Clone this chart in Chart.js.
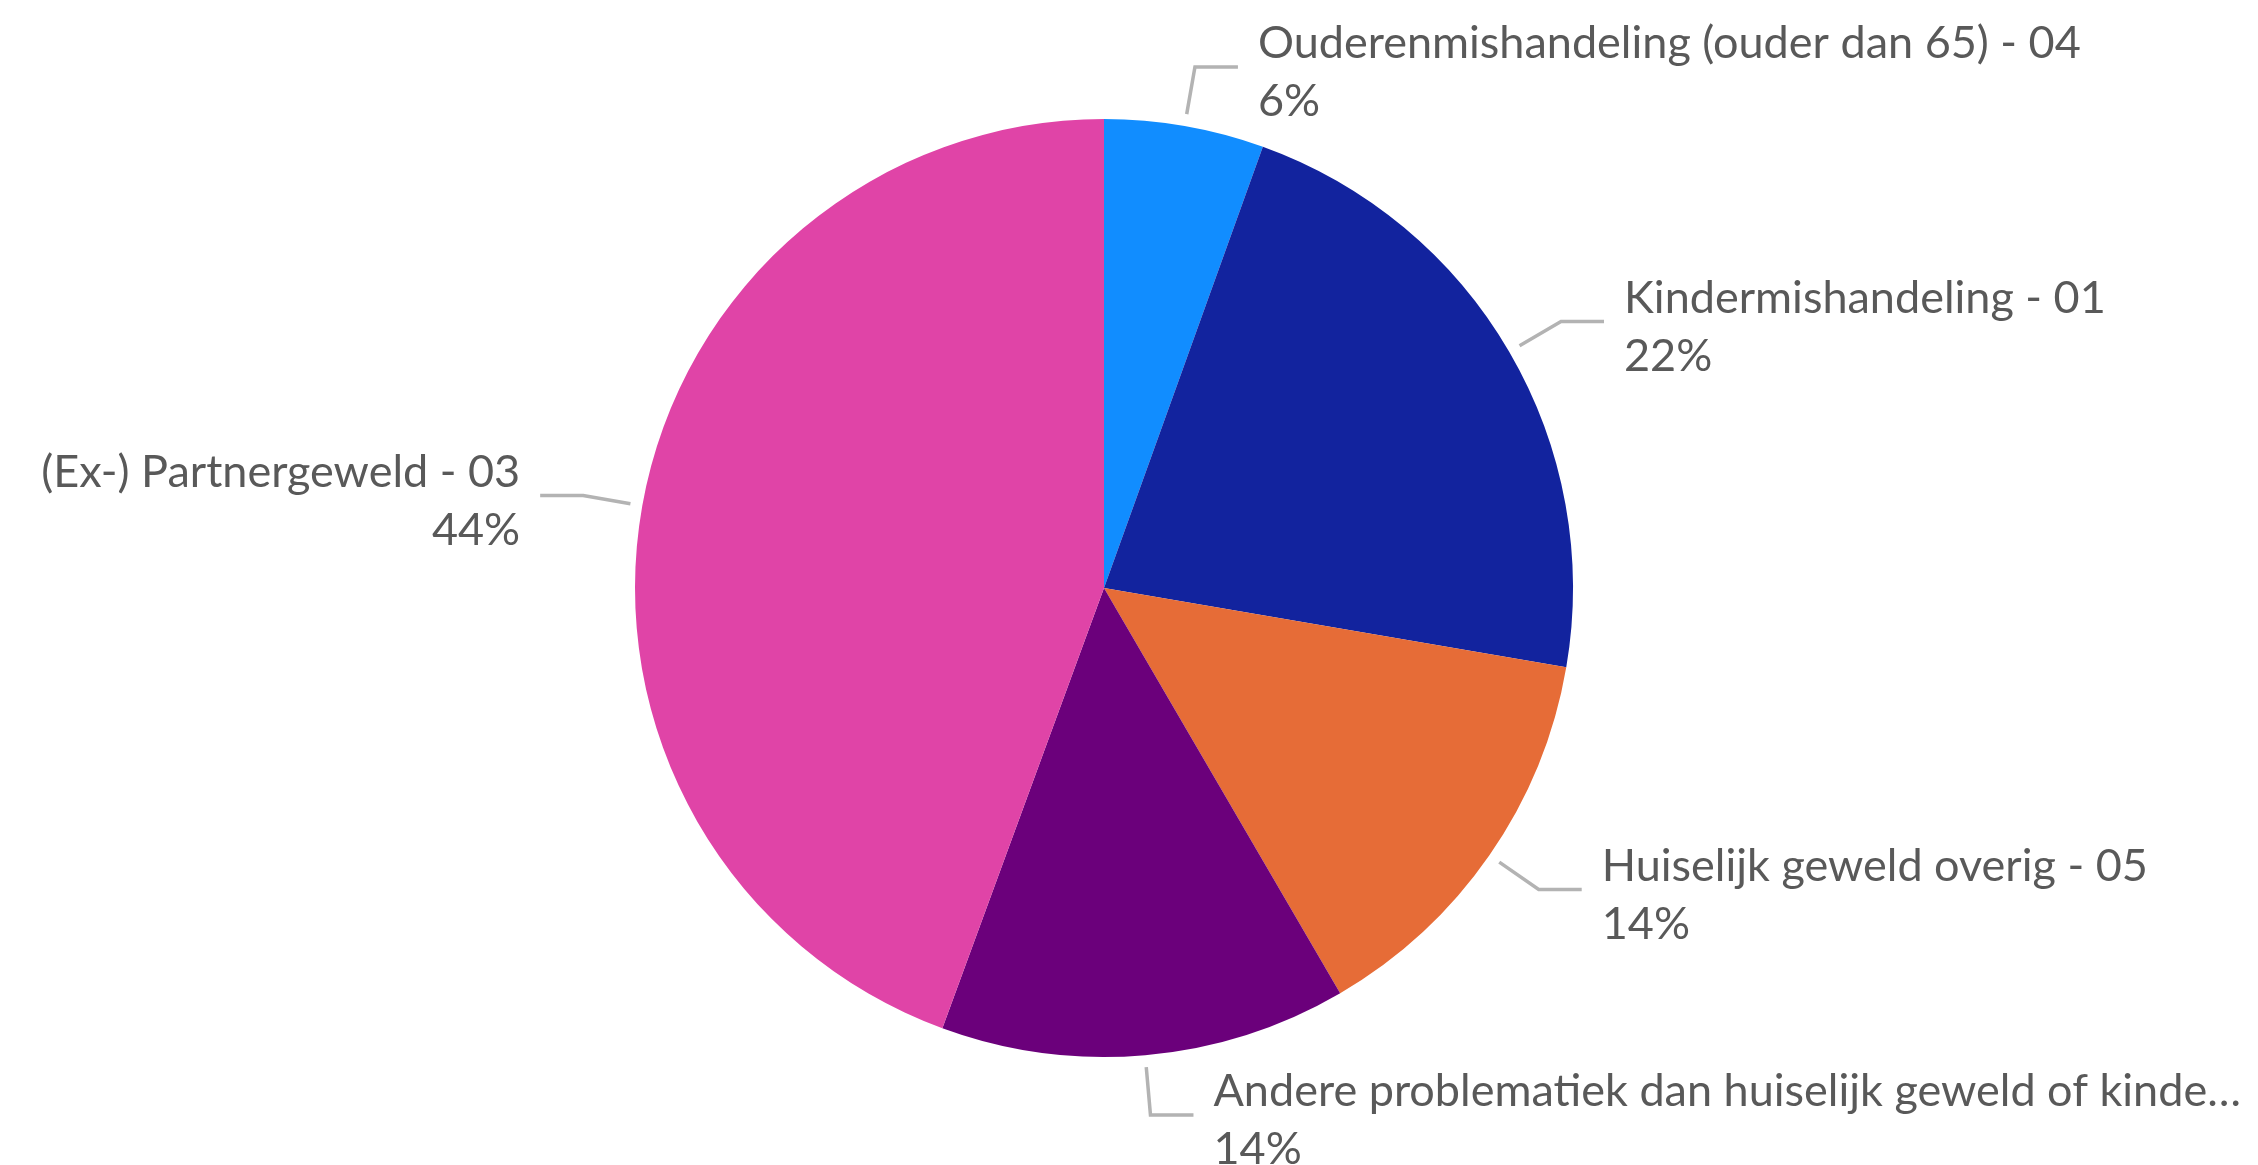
<!DOCTYPE html>
<html>
<head>
<meta charset="utf-8">
<script src="https://cdn.jsdelivr.net/npm/chart.js@4.4.1/dist/chart.umd.min.js"></script>
<style>
  html, body { margin: 0; padding: 0; background: #ffffff; }
  #wrap { width: 2258px; height: 1165px; position: relative; }
</style>
</head>
<body>
<div id="wrap"><canvas id="pieChart"></canvas></div>
<script>
// data (share in %)
const categories = [
    "Ouderenmishandeling (ouder dan 65) - 04",
    "Kindermishandeling - 01",
    "Huiselijk geweld overig - 05",
    "Andere problematiek dan huiselijk geweld of kindermishandeling - 02",
    "(Ex-) Partnergeweld - 03"
];
const shares = [5.5, 22.2, 13.9, 14.0, 44.4];
const sliceColors = ["#118DFF", "#12239E", "#E66C37", "#6B007B", "#E044A7"];

const LABEL_FONT = "Lato, 'Open Sans', sans-serif";
const TEXT_COLOR = "#595959";
const LEADER_COLOR = "#B3B3B3";

// outside labels with elbow leader lines, roughly like the original
const leaderLabels = {
    id: "leaderLabels",
    afterDatasetsDraw(chart) {
        const ctx = chart.ctx;
        const meta = chart.getDatasetMeta(0);
        const total = shares.reduce((a, b) => a + b, 0);

        // pick a font size so the longest normal label is about as wide as in the picture
        ctx.save();
        ctx.font = "40px " + LABEL_FONT;
        const w40 = ctx.measureText(categories[0]).width;
        const size = Math.round(40 * 817 / w40);
        ctx.font = size + "px " + LABEL_FONT;
        const lineGap = 58;

        meta.data.forEach((arc, i) => {
            const p = arc.getProps(["x", "y", "startAngle", "endAngle", "outerRadius"], true);
            const mid = (p.startAngle + p.endAngle) / 2;
            const cos = Math.cos(mid), sin = Math.sin(mid);
            const sx = p.x + cos * (p.outerRadius + 12);
            const sy = p.y + sin * (p.outerRadius + 12);
            const ex = p.x + cos * (p.outerRadius + 60);
            const ey = p.y + sin * (p.outerRadius + 60);
            const right = cos >= 0;
            const hx = ex + (right ? 43 : -43);

            ctx.strokeStyle = LEADER_COLOR;
            ctx.lineWidth = 3.5;
            ctx.beginPath();
            ctx.moveTo(sx, sy);
            ctx.lineTo(ex, ey);
            ctx.lineTo(hx, ey);
            ctx.stroke();

            const tx = hx + (right ? 20 : -20);
            let name = categories[i];
            const maxW = right ? chart.width - 12 - tx : tx - 12;
            if (ctx.measureText(name).width > maxW) {
                while (name.length > 1 && ctx.measureText(name + "…").width > maxW) {
                    name = name.slice(0, -1);
                }
                name = name.trimEnd() + "…";
            }
            const pct = Math.round(shares[i] / total * 100) + "%";

            ctx.fillStyle = TEXT_COLOR;
            ctx.textAlign = right ? "left" : "right";
            ctx.textBaseline = "middle";
            ctx.fillText(name, tx, ey - lineGap / 2 + 6);
            ctx.fillText(pct, tx, ey + lineGap / 2 + 6);
        });
        ctx.restore();
    }
};

document.addEventListener("DOMContentLoaded", function () {
    const ctx = document.getElementById("pieChart").getContext("2d");

    new Chart(ctx, {
        type: "pie",
        data: {
            labels: categories,
            datasets: [{
                data: shares,
                backgroundColor: sliceColors,
                borderWidth: 0
            }]
        },
        options: {
            responsive: true,
            maintainAspectRatio: false,
            animation: false,
            layout: { padding: { top: 119, bottom: 108, left: 0, right: 50 } },
            plugins: {
                legend: { display: false },
                tooltip: { enabled: false }
            }
        },
        plugins: [leaderLabels]
    });
});
</script>
</body>
</html>
